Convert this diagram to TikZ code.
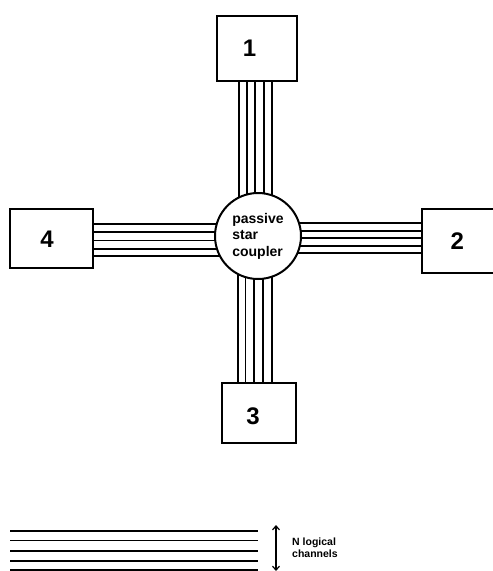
\documentclass[tikz,border=0pt]{standalone}
\usepackage{fontspec}
\setmainfont{Liberation Sans}
\usetikzlibrary{arrows.meta}
\tikzset{
  unitbox/.style={draw=black, line width=2pt, fill=white, inner sep=0pt},
  numlabel/.style={font=\fontsize{24}{28}\selectfont\bfseries, inner sep=0pt},
  coupler/.style={draw=black, line width=2pt, fill=white, circle, minimum size=86pt, inner sep=0pt,
     align=left, font=\fontsize{14}{16.5}\selectfont\bfseries},
  fibre/.style={draw=black, line width=1.7pt},
  legendtext/.style={font=\fontsize{10.5}{12.5}\selectfont\bfseries, align=left, anchor=west, inner sep=0pt}
}
\begin{document}
\begin{tikzpicture}[x=1pt, y=-1pt]
\useasboundingbox (0,0) rectangle (493,571);
\clip (0,0) rectangle (493,571);

% boxes
\node[unitbox, minimum width=80pt, minimum height=65pt] (b1) at (257,48.5) {};
\node[unitbox, minimum width=83pt, minimum height=59pt] (b4) at (51.5,238.5) {};
\node[unitbox, minimum width=90pt, minimum height=64pt] (b2) at (467,241) {};
\node[unitbox, minimum width=74pt, minimum height=60pt] (b3) at (259,413.3) {};

\node[numlabel] at (249.5,48.5) {1};
\node[numlabel] at (457.3,241.5) {2};
\node[numlabel] at (253,416) {3};
\node[numlabel] at (47,239.5) {4};

% coupler centre
\coordinate (cc) at (258,236);

% fibre bundles
\foreach \x in {239,247,255,264,272}
  \draw[fibre] (b1.south -| \x,0) -- (cc -| \x,0);
\foreach \x in {238,245.5,254,263,272}
  \draw[fibre] (b3.north -| \x,0) -- (cc -| \x,0);
\foreach \y in {224,232,240.5,249,256}
  \draw[fibre] (b4.east |- 0,\y) -- (cc |- 0,\y);
\foreach \y in {223,231,238,246,253}
  \draw[fibre] (b2.west |- 0,\y) -- (cc |- 0,\y);

% coupler
\node[coupler] (c) at (cc) {passive\\star\\coupler};

% legend
\foreach \y in {531,540.5,551,561,570}
  \draw[line width=1.7pt] (10,\y) -- (258,\y);
\coordinate (ar1) at (276,525);
\coordinate (ar2) at (276,571);
\draw[line width=1.2pt, {Straight Barb[length=4pt,width=7pt]}-{Straight Barb[length=4pt,width=7pt]}] (ar1) -- (ar2);
\node[legendtext] (lt) at (292,547.5) {N logical\\channels};
\end{tikzpicture}
\end{document}
